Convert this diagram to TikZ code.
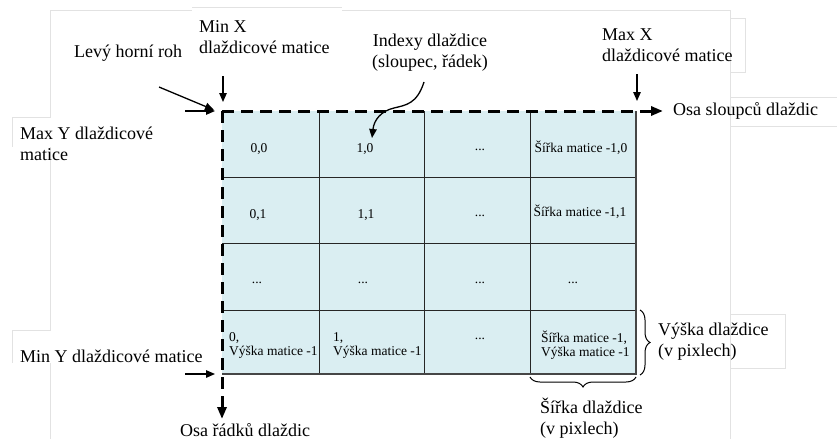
\documentclass[tikz,border=0pt]{standalone}
\usepackage{fontspec}
\setmainfont{Liberation Serif}
\usetikzlibrary{arrows.meta,decorations.pathreplacing}
\definecolor{cellfill}{HTML}{DAEEF2}
\definecolor{framegray}{HTML}{E2E2E2}
\tikzset{
  lbl/.style={inner sep=0pt, align=left, anchor=west, font=\fontsize{18}{21}\selectfont},
  cell/.style={inner sep=0pt, align=center, font=\fontsize{13.5}{14}\selectfont},
  cellL/.style={inner sep=0pt, align=left, anchor=west, font=\fontsize{13.5}{14}\selectfont},
  arr/.style={-{Triangle[length=9pt,width=7.5pt]}, line width=1.3pt},
  axisline/.style={line width=3pt, dash pattern=on 12pt off 7pt, -{Triangle[length=12pt,width=9pt]}},
  gridline/.style={line width=1pt, black!85},
  brc/.style={decorate, decoration={brace, amplitude=10pt}, line width=1pt},
  frame/.style={framegray, line width=0.7pt},
}
\begin{document}
\begin{tikzpicture}[x=1pt,y=-1pt]
\useasboundingbox (0,0) rectangle (837,439);
% faint frames of text boxes
\draw[frame] (50,10) -- (192,10);
\draw[frame] (192,7.5) -- (342,7.5);
\draw[frame] (342,10) -- (730,10);
\draw[frame] (50,10) -- (50,117) -- (12,117) -- (12,147);
\draw[frame] (50,147) -- (50,330) -- (12,330) -- (12,363);
\draw[frame] (50,363) -- (50,439);
\draw[frame] (730,10) -- (730,439);
\draw[frame] (730,18) -- (745,18) -- (745,72) -- (730,72);
\draw[frame] (730,97) -- (837,97);
\draw[frame] (730,126) -- (837,126);
\draw[frame] (730,314) -- (785,314) -- (785,368) -- (730,368);
% grid
\coordinate (TL) at (222,111);
\coordinate (TR) at (636,111);
\coordinate (BL) at (222,374);
\coordinate (BR) at (636,374);
\fill[cellfill] (TL) rectangle (BR);
\foreach \x in {319,424,530} \draw[gridline] (\x,111) -- (\x,374);
\foreach \y in {177,243,310} \draw[gridline] (222,\y) -- (636,\y);
\draw[gray!55!black, line width=1.6pt] (BL) -- (BR) -- (TR);
% axes
\coordinate (xEnd) at (663,111);
\coordinate (yEnd) at (222,419);
\draw[axisline] (TL) -- (xEnd);
\draw[axisline] (TL) -- (yEnd);
% cell texts
\node[cell] (c00) at (259,149) {0,0};
\node[cell] (c10) at (365,149) {1,0};
\node[cell] (c20) at (480,150) {...};
\node[cell] (c30) at (581,148) {Šířka matice -1,0};
\node[cell] (c01) at (258,215) {0,1};
\node[cell] (c11) at (366,215) {1,1};
\node[cell] (c21) at (480,216) {...};
\node[cell] (c31) at (580,212) {Šířka matice -1,1};
\node[cell] (c02) at (257,283) {...};
\node[cell] (c12) at (363,283) {...};
\node[cell] (c22) at (480,283) {...};
\node[cell] (c32) at (573,283) {...};
\node[cellL] (c03) at (229,345) {0,\\Výška matice -1};
\node[cellL] (c13) at (333,345) {1,\\Výška matice -1};
\node[cell] (c23) at (480,339) {...};
\node[cellL] (c33) at (541,345) {Šířka matice -1,\\Výška matice -1};
% labels
\node[lbl] (lhr) at (74,53) {Levý horní roh};
\node[lbl] (minx) at (199,37.5) {Min X\\dlaždicové matice};
\node[lbl, anchor=center, align=center] (idx) at (430,52.5) {Indexy dlaždice\\(sloupec, řádek)};
\node[lbl] (maxx) at (602,45) {Max X\\dlaždicové matice};
\node[lbl] (osaS) at (673,111) {Osa sloupců dlaždic};
\node[lbl] (maxy) at (20,143.5) {Max Y dlaždicové\\matice};
\node[lbl] (miny) at (20,356) {Min Y dlaždicové matice};
\node[lbl] (osaR) at (180,430) {Osa řádků dlaždic};
\node[lbl] (vys) at (658,342) {Výška dlaždice\\(v pixlech)};
\node[lbl] (sir) at (540,418.5) {Šířka dlaždice\\(v pixlech)};
% pointer arrows
\coordinate (lhrA) at (159,87);
\coordinate (lhrB) at (214,110);
\draw[arr] (lhrA) -- (lhrB);
\coordinate (minxA) at (223,76);
\coordinate (minxB) at (223,102);
\draw[arr] (minxA) -- (minxB);
\coordinate (maxxA) at (637,74);
\coordinate (maxxB) at (637,101);
\draw[arr] (maxxA) -- (maxxB);
\coordinate (maxyA) at (185,111);
\coordinate (maxyB) at (215,111);
\draw[arr] (maxyA) -- (maxyB);
\coordinate (minyA) at (185,374);
\coordinate (minyB) at (215,374);
\draw[arr] (minyA) -- (minyB);
\coordinate (idxA) at (424,82);
\coordinate (idxB) at (372,138);
\draw[arr] (idxA) .. controls (417,104) and (406,105) .. (394,108)
  .. controls (381,111) and (374,120) .. (idxB);
% braces
\draw[brc] (640,310) -- (640,375);
\draw[brc] (636,377) -- (530,377);
\end{tikzpicture}
\end{document}
